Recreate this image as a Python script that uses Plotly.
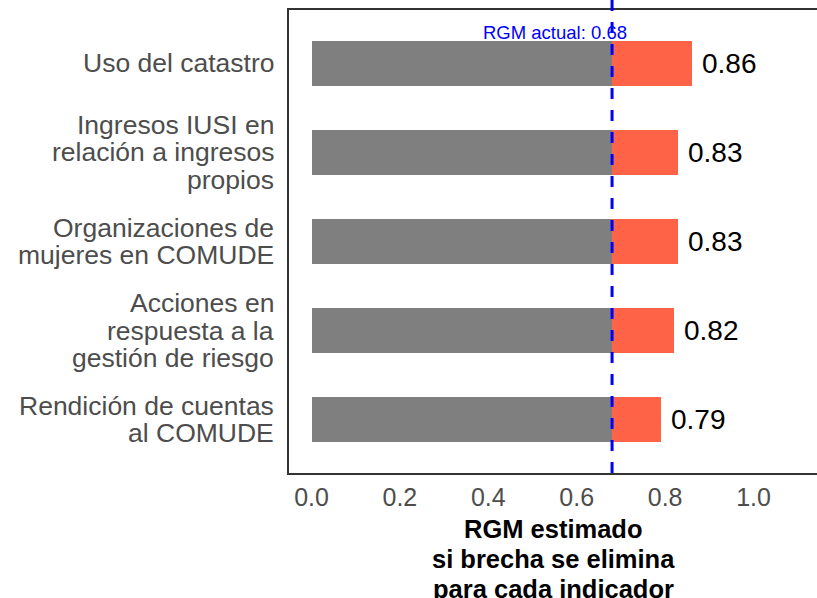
import plotly.graph_objects as go

# Data (top to bottom as in the chart)
categories = [
    "Uso del catastro",
    "Ingresos IUSI en<br>relación a ingresos<br>propios",
    "Organizaciones de<br>mujeres en COMUDE",
    "Acciones en<br>respuesta a la<br>gestión de riesgo",
    "Rendición de cuentas<br>al COMUDE",
]
rgm_if_closed = [0.86, 0.83, 0.83, 0.82, 0.79]
value_labels = ["0.86", "0.83", "0.83", "0.82", "0.79"]
rgm_actual = 0.68
x_ticks = [0.0, 0.2, 0.4, 0.6, 0.8, 1.0]
x_title_lines = ["RGM estimado", "si brecha se elimina", "para cada indicador"]

FONT = "Liberation Sans, Arial, Helvetica, sans-serif"

# Plotly categorical axis: first item at bottom
cat_order = list(reversed(categories))

fig = go.Figure()

fig.add_trace(go.Bar(
    y=categories,
    x=[rgm_actual] * len(categories),
    base=0,
    orientation="h",
    width=0.5,
    marker=dict(color="#7F7F7F", line=dict(width=0)),
    showlegend=False,
    hoverinfo="skip",
))
fig.add_trace(go.Bar(
    y=categories,
    x=[v - rgm_actual for v in rgm_if_closed],
    base=rgm_actual,
    orientation="h",
    width=0.5,
    marker=dict(color="#FF6347", line=dict(width=0)),
    showlegend=False,
    hoverinfo="skip",
))

annotations = []

# value labels
for cat, v, lab in zip(categories, rgm_if_closed, value_labels):
    annotations.append(dict(
        x=v, y=cat, xref="x", yref="y", text=lab, showarrow=False,
        xanchor="left", yanchor="middle", xshift=8,
        font=dict(family=FONT, size=28, color="#000000"),
    ))

# category labels (one annotation per line for tight line spacing)
line_gap = 27.5
for cat in categories:
    lines = cat.split("<br>")
    n = len(lines)
    for i, ln in enumerate(lines):
        offset = (i - (n - 1) / 2) * line_gap
        annotations.append(dict(
            x=0, y=cat, xref="paper", yref="y", text=ln, showarrow=False,
            xanchor="right", yanchor="middle", xshift=-14, yshift=-offset,
            borderpad=0,
            font=dict(family=FONT, size=26.5, color="#4D4D4D"),
        ))

# x-axis title lines
for i, ln in enumerate(x_title_lines):
    annotations.append(dict(
        x=0.5, y=0, xref="paper", yref="paper", text="<b>%s</b>" % ln,
        showarrow=False, xanchor="center", yanchor="middle",
        yshift=-(56 + i * 30), borderpad=0,
        font=dict(family=FONT, size=25.5, color="#000000"),
    ))

# RGM actual label
annotations.append(dict(
    x=rgm_actual, y=1, xref="x", yref="paper",
    text="RGM actual: %.2f" % rgm_actual, showarrow=False,
    xanchor="right", yanchor="middle", xshift=17, yshift=-22,
    font=dict(family=FONT, size=18.5, color="#0000FF"),
))

shapes = [
    dict(type="line", xref="x", yref="paper", x0=rgm_actual, x1=rgm_actual,
         y0=1.0216, y1=0, line=dict(color="#0000FF", width=3, dash="11px,11px")),
]

fig.update_layout(
    width=817, height=598,
    margin=dict(l=289, r=0, t=10, b=125, pad=0),
    paper_bgcolor="white", plot_bgcolor="white",
    barmode="overlay",
    bargap=0,
    annotations=annotations,
    shapes=shapes,
    xaxis=dict(
        range=[(289 - 311.5) / 442, (817 - 311.5) / 442],
        tickvals=x_ticks,
        tickformat=".1f",
        ticks="outside", ticklen=1, tickcolor="rgba(0,0,0,0)",
        tickfont=dict(family=FONT, size=25, color="#4D4D4D"),
        showgrid=False, zeroline=False,
        showline=True, linecolor="#333333", linewidth=1.5, mirror=True,
    ),
    yaxis=dict(
        type="category",
        categoryorder="array", categoryarray=cat_order,
        range=[-0.6, 4.6],
        showticklabels=False, ticks="",
        showgrid=False, zeroline=False,
        showline=True, linecolor="#333333", linewidth=1.5, mirror=False,
    ),
)

fig.write_html(
    "out.html",
    config={"displayModeBar": False},
    post_script="document.body.style.margin='0';document.body.style.overflow='hidden';",
)
